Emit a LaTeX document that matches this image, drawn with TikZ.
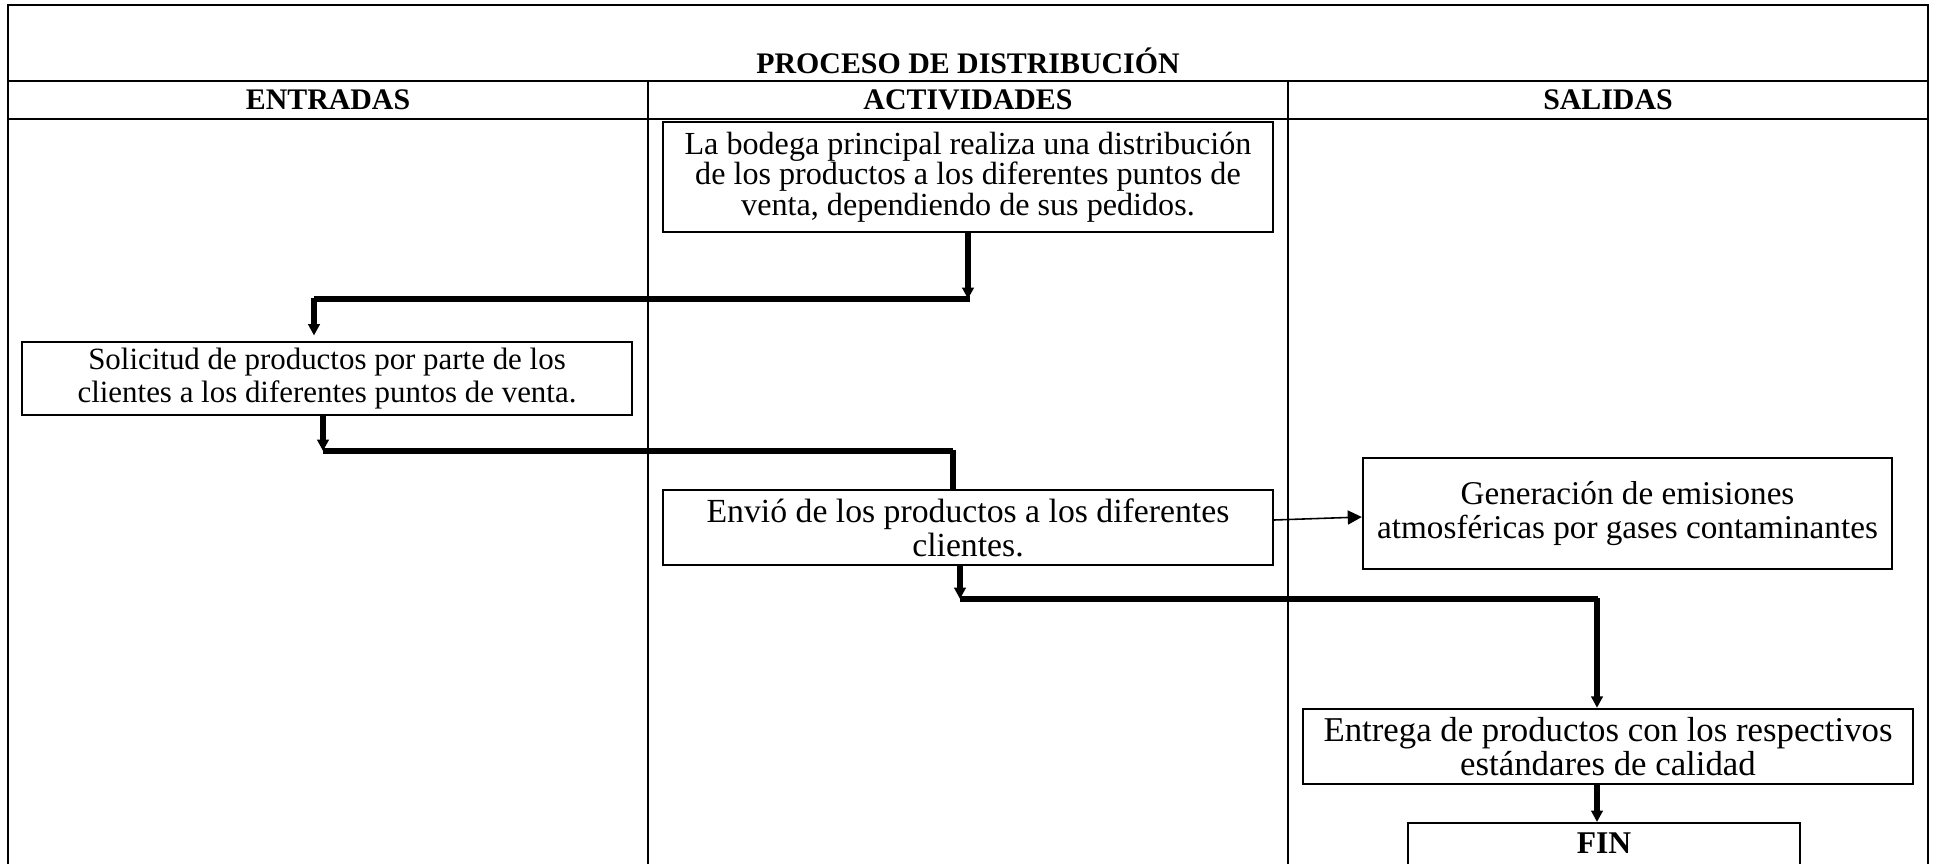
\documentclass[tikz,border=0pt]{standalone}
\usepackage{fontspec}
\setmainfont{Liberation Serif}
\usetikzlibrary{arrows.meta,calc}
\begin{document}
\begin{tikzpicture}[x=0.02cm,y=-0.02cm,
  every node/.style={font=\fontsize{17}{19.3}\selectfont},
  tab/.style={line width=0.8pt},
  tabthick/.style={line width=1.3pt},
  procbox/.style={draw,line width=1.4pt,inner sep=0pt,align=center},
  hdr/.style={font=\fontsize{17}{19.3}\selectfont\bfseries,anchor=base},
  conn/.style={line width=3pt},
  arr/.style={-{Triangle[length=6.5pt,width=6.5pt]}},
  thinarr/.style={line width=0.9pt,-{Triangle[length=8pt,width=8pt]}}]
\useasboundingbox (0,0) rectangle (1937,864);
% table
\draw[tabthick] (8,5) -- (1928,5);
\draw[tabthick] (8,4) -- (8,880);
\draw[tabthick] (1928,4) -- (1928,880);
\draw[tabthick] (8,81) -- (1928,81);
\draw[tabthick] (8,119) -- (1928,119);
\draw[tab] (648,81) -- (648,880);
\draw[tab] (1288,81) -- (1288,880);
% headers
\node[hdr] (title) at (968,74) {PROCESO DE DISTRIBUCIÓN};
\node[hdr] (hin) at (328,110) {ENTRADAS};
\node[hdr] (hact) at (968,110) {ACTIVIDADES};
\node[hdr] (hout) at (1608,110) {SALIDAS};
% boxes
\node[procbox,minimum width=12.2cm,minimum height=2.2cm,font=\fontsize{18.3}{17.4}\selectfont] (b1) at (968,177)
  {La bodega principal realiza una distribución\\de los productos a los diferentes puntos de\\venta, dependiendo de sus pedidos.};
\node[procbox,minimum width=12.2cm,minimum height=1.46cm,font=\fontsize{17.6}{19}\selectfont] (b2) at (327,378.5)
  {Solicitud de productos por parte de los\\clientes a los diferentes puntos de venta.};
\node[procbox,minimum width=12.2cm,minimum height=1.5cm,font=\fontsize{19.2}{19.5}\selectfont] (b3) at (968,527.5)
  {Envió de los productos a los diferentes\\clientes.};
\node[procbox,minimum width=10.58cm,minimum height=2.22cm,font=\fontsize{18.9}{19.7}\selectfont] (b4) at (1627.5,513.5)
  {Generación de emisiones\\atmosféricas por gases contaminantes};
\node[procbox,minimum width=12.2cm,minimum height=1.5cm,font=\fontsize{19.8}{19.3}\selectfont] (b5) at (1608,746.5)
  {Entrega de productos con los respectivos\\estándares de calidad};
\node[procbox,minimum width=7.84cm,anchor=north,inner ysep=5.7pt,text depth=1.2cm,font=\fontsize{18}{19.3}\selectfont\bfseries] (fin) at (1604,822) {FIN};
% connector corners
\coordinate (c1) at (968,299);
\coordinate (c2) at (314,299);
\coordinate (c3) at (323,451);
\coordinate (c4) at (953,451);
\coordinate (c5) at (960,599);
\coordinate (c6) at (1597,599);
% connectors
\draw[conn,arr] (b1.south) -- (c1);
\draw[conn] ($(c1)+(2,0)$) -- (c2);
\draw[conn,arr,shorten >=3pt] ($(c2)+(0,-1.2)$) -- (c2 |- b2.north);
\draw[conn,arr] (c3 |- b2.south) -- (c3);
\draw[conn] (c3) -- (c4);
\draw[conn] ($(c4)+(0,-1.2)$) -- (c4 |- b3.north);
\draw[conn,arr] (c5 |- b3.south) -- (c5);
\draw[conn] (c5) -- ($(c6)+(1.2,0)$);
\draw[conn,arr] ($(c6)+(0,-1.2)$) -- (c6 |- b5.north);
\draw[conn,arr] (c6 |- b5.south) -- (c6 |- fin.north);
\draw[thinarr] ($(b3.east)+(0,-7.5)$) -- ($(b4.west)+(0,3.5)$);
\end{tikzpicture}
\end{document}
